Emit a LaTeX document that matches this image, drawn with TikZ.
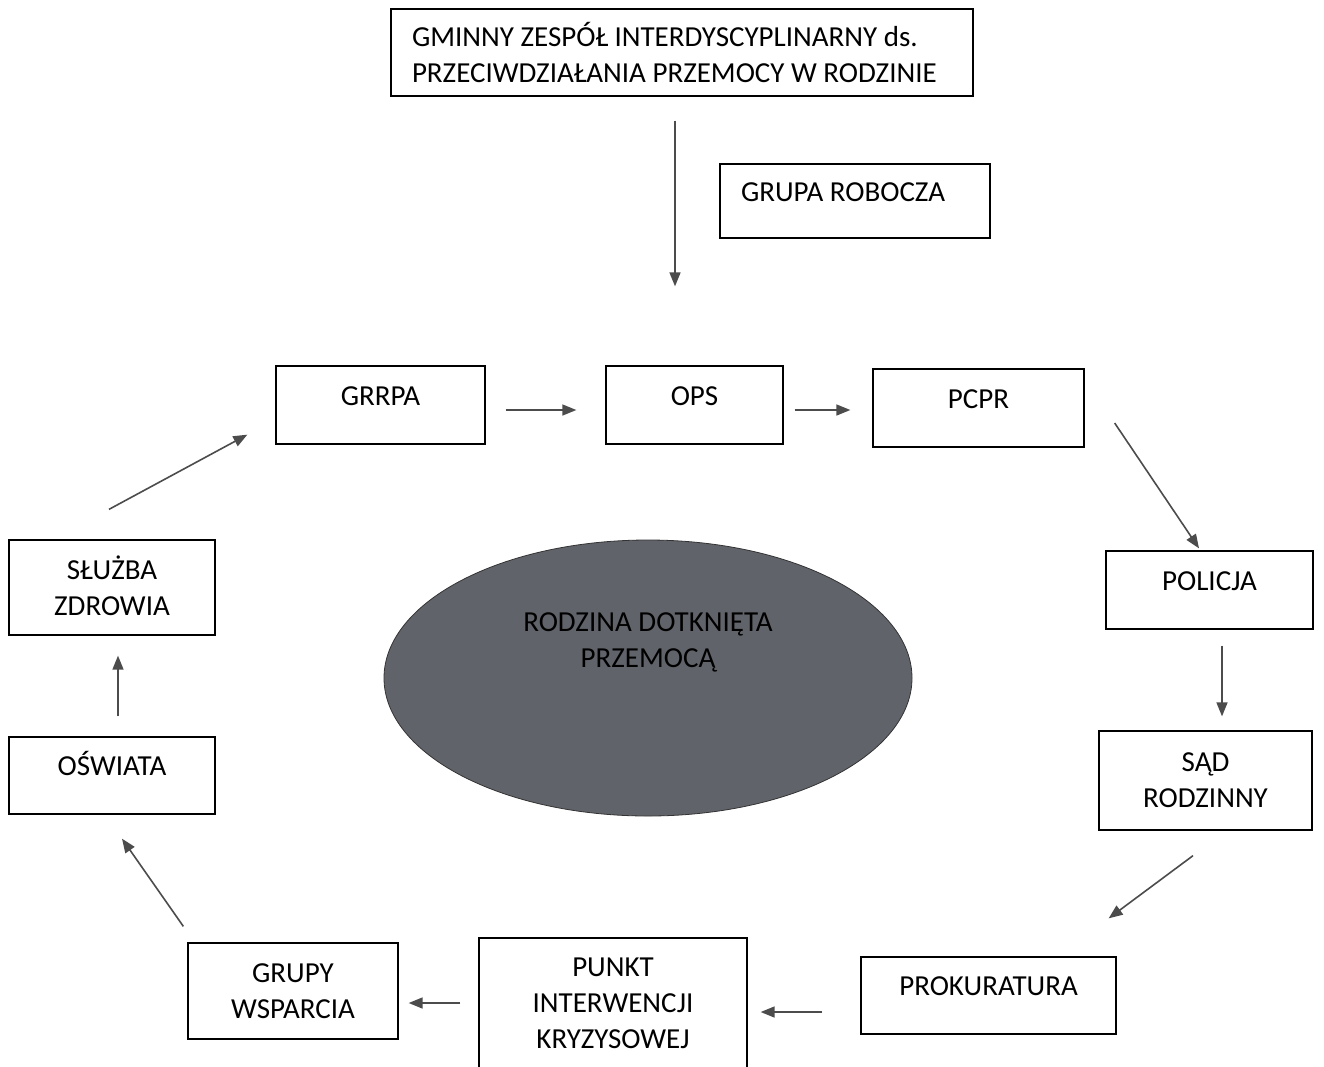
\documentclass[tikz,border=0pt]{standalone}
\usepackage{fontspec}
\setmainfont{Carlito}
\usetikzlibrary{positioning,shapes.geometric,arrows.meta}
\definecolor{ellfill}{RGB}{96,99,105}
\tikzset{
  box/.style={draw, line width=1.3pt, align=center, inner sep=0pt},
  oneline/.style={text height=19pt, text depth=19pt},
  arr/.style={-{Triangle[length=14pt,width=11pt]}, draw=black!70, line width=1.6pt},
}
\begin{document}
\begin{tikzpicture}[x=1pt, y=-1pt, font=\fontsize{29}{36}\selectfont, node distance=314pt]
\useasboundingbox (0,0) rectangle (1324,1066);
	\node (gzi) [box, minimum width=582pt, minimum height=87pt, text width=540pt, align=flush left] at (682,52.5) {GMINNY ZESPÓŁ INTERDYSCYPLINARNY ds.\\PRZECIWDZIAŁANIA PRZEMOCY W RODZINIE};
	\node (grupa) [box, oneline, minimum width=270pt, minimum height=74pt, text width=228pt, align=flush left] at (855,201) {GRUPA ROBOCZA};
	\node (grrpa) [box, oneline, minimum width=209pt, minimum height=78pt] at (380.5,405) {GRRPA};
	\node (ops) [box, oneline, right of=grrpa, minimum width=177pt, minimum height=78pt] {OPS};
	\node (pcpr) [box, oneline, right of=ops, node distance=284pt, yshift=-3pt, minimum width=211pt, minimum height=78pt] {PCPR};
	\node (policja) [box, oneline, minimum width=207pt, minimum height=78pt] at (1209.5,590) {POLICJA};
	\node (sad) [box, minimum width=213pt, minimum height=99pt] at (1205.5,780.5) {SĄD\\RODZINNY};
	\node (prok) [box, oneline, minimum width=255pt, minimum height=77pt] at (988.5,995.5) {PROKURATURA};
	\node (punkt) [box, minimum width=268pt, minimum height=130pt] at (613,1003) {PUNKT\\INTERWENCJI\\KRYZYSOWEJ};
	\node (grupy) [box, minimum width=210pt, minimum height=96pt] at (293,991) {GRUPY\\WSPARCIA};
	\node (oswiata) [box, oneline, minimum width=206pt, minimum height=77pt] at (112,775.5) {OŚWIATA};
	\node (sluzba) [box, above of=oswiata, node distance=188pt, minimum width=206pt, minimum height=95pt, text depth=4pt] {SŁUŻBA\\ZDROWIA};
	\node (rodzina) [ellipse, draw=black!80, line width=0.8pt, fill=ellfill, minimum width=528pt, minimum height=276pt, inner sep=0pt, align=center, text height=19pt, text depth=41pt] at (648,678) {RODZINA DOTKNIĘTA\\PRZEMOCĄ};
	\draw [arr, shorten <=24pt, shorten >=79pt] ([xshift=-7pt]gzi.south) to ([xshift=-7pt]gzi.south |- ops.north);
	\draw [arr, shorten <=20pt, shorten >=29pt] ([yshift=-5pt]grrpa.east) to ([yshift=-5pt]grrpa.east -| ops.west);
	\draw [arr, shorten <=11pt, shorten >=22pt] ([yshift=-5pt]ops.east) to ([yshift=-5pt]ops.east -| pcpr.west);
	\draw [arr] ([xshift=30pt,yshift=-15pt]pcpr.east) to ([xshift=-10.5pt,yshift=2pt]policja.north);
	\draw [arr, shorten <=16pt, shorten >=14pt] ([xshift=12.5pt]policja.south) to ([xshift=12.5pt]policja.south |- sad.north);
	\draw [arr] ([xshift=-12.5pt,yshift=-25pt]sad.south) to ([xshift=-8pt,yshift=38pt]prok.north east);
	\draw [arr, shorten <=38pt, shorten >=13pt] ([yshift=-16.5pt]prok.west) to ([yshift=-16.5pt]prok.west -| punkt.east);
	\draw [arr, shorten <=18pt, shorten >=10pt] (punkt.west) to (punkt.west -| grupy.east);
	\draw [arr] ([xshift=-4pt,yshift=16pt]grupy.north west) to ([xshift=10pt,yshift=-24pt]oswiata.south);
	\draw [arr, shorten <=20pt, shorten >=20pt] ([xshift=6pt]oswiata.north) to ([xshift=6pt]sluzba.south);
	\draw [arr] ([xshift=-3pt,yshift=30pt]sluzba.north) to ([xshift=-28pt,yshift=10pt]grrpa.south west);
\end{tikzpicture}
\end{document}
